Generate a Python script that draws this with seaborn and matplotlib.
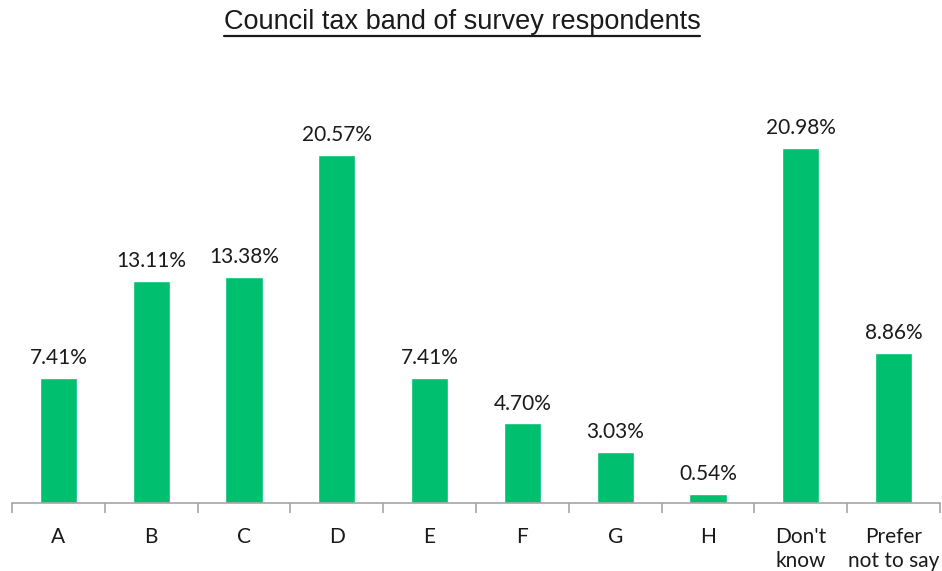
import matplotlib
matplotlib.use("Agg")
import matplotlib.pyplot as plt
import seaborn as sns
import pandas as pd

bands = ["A", "B", "C", "D", "E", "F", "G", "H", "Don't\nknow", "Prefer\nnot to say"]
shares = [7.41, 13.11, 13.38, 20.57, 7.41, 4.70, 3.03, 0.54, 20.98, 8.86]

df = pd.DataFrame({"band": bands, "share": shares})

sns.set_style("white")
plt.rcParams["font.family"] = ["Lato", "DejaVu Sans"]

fig = plt.figure(figsize=(9.42, 5.71), dpi=100)
ax = fig.add_axes([12 / 942, 68 / 571, 928 / 942, 443 / 571])

sns.barplot(data=df, x="band", y="share", color="#00BF6F", width=0.4,
            saturation=1, ax=ax)

ax.set_xlim(-0.5, len(bands) - 0.5)
ax.set_ylim(0, 443 / 16.92)
ax.set_xlabel("")
ax.set_ylabel("")
ax.set_yticks([])

for side in ["top", "right", "left"]:
    ax.spines[side].set_visible(False)
ax.spines["bottom"].set_color("#A6A6A6")
ax.spines["bottom"].set_linewidth(1.2)

# category boundaries carry the tick marks
ax.set_xticks([i - 0.5 for i in range(len(bands) + 1)], minor=False)
ax.set_xticklabels([])
ax.tick_params(axis="x", which="major", length=7, width=1.2, color="#A6A6A6",
               direction="out", bottom=True)
ax.set_xticks(range(len(bands)), minor=True)
ax.set_xticklabels(bands, minor=True, fontsize=15, color="#1a1a1a",
                   linespacing=1.25, va="top")
ax.tick_params(axis="x", which="minor", length=0, pad=17)

for i, v in enumerate(shares):
    ax.annotate(f"{v:.2f}%", (i, v), xytext=(0, 7), textcoords="offset points",
                ha="center", va="bottom", fontsize=15, color="#1a1a1a")

title = fig.text(462 / 942, 1 - 22 / 571, "Council tax band of survey respondents",
                 ha="center", va="center", fontsize=19.5,
                 family=["Liberation Sans", "DejaVu Sans"], color="#1a1a1a")

# underline beneath the title
fig.canvas.draw()
bb = title.get_window_extent().transformed(fig.transFigure.inverted())
y_line = bb.y0 - 1 / 571
fig.add_artist(plt.Line2D([bb.x0, bb.x1], [y_line, y_line],
                          transform=fig.transFigure, color="#1a1a1a", lw=1.6))

fig.savefig("out.png", dpi=100)
